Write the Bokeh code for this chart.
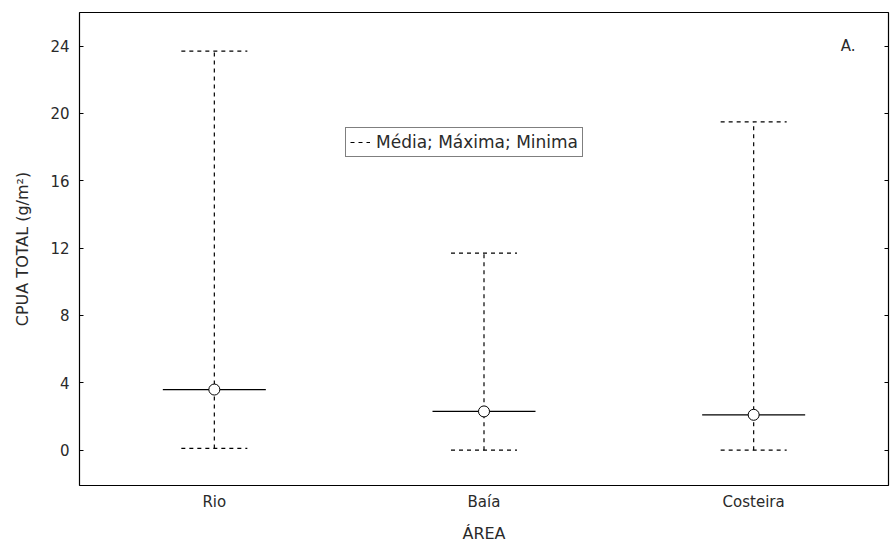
from bokeh.plotting import figure
from bokeh.models import (ColumnDataSource, FactorRange, Range1d, FixedTicker, LinearAxis,
                          Legend, LegendItem, Label)
from bokeh.embed import file_html
from bokeh.resources import INLINE

areas = ["Rio", "Baía", "Costeira"]
media = [3.6, 2.3, 2.1]
maxima = [23.7, 11.7, 19.5]
minima = [0.1, 0.0, 0.0]
y_ticks = [0, 4, 8, 12, 16, 20, 24]

FONT = "DejaVu Sans"
TXT = "#2a2a2a"

src = ColumnDataSource(dict(area=areas, media=media, maxima=maxima, minima=minima))

p = figure(width=890, height=545, x_range=FactorRange(*areas), y_range=Range1d(-2.1, 26.0),
           output_backend="svg", toolbar_location=None,
           min_border_left=79, min_border_right=2, min_border_top=12, min_border_bottom=40)
p.background_fill_color = "white"
p.border_fill_color = "white"
p.outline_line_color = "black"
p.outline_line_width = 1.2
p.xgrid.visible = False
p.ygrid.visible = False

# whiskers (max / min)
seg = p.segment(x0="area", y0="minima", x1="area", y1="maxima", source=src,
                line_color="black", line_width=1.2, line_dash="4 4")
p.scatter(x="area", y="maxima", source=src, marker="dash", size=66,
          line_color="black", line_width=1.2, line_dash="4 4")
p.scatter(x="area", y="minima", source=src, marker="dash", size=66,
          line_color="black", line_width=1.2, line_dash="4 4")
# mean line and point
p.scatter(x="area", y="media", source=src, marker="dash", size=103,
          line_color="black", line_width=1.2)
p.scatter(x="area", y="media", source=src, marker="circle", size=11,
          fill_color="white", line_color="black", line_width=1)

# axes
p.yaxis.ticker = FixedTicker(ticks=y_ticks)
p.yaxis.axis_label = "CPUA TOTAL (g/m²)"
p.xaxis.axis_label = "ÁREA"
for ax in (p.xaxis[0], p.yaxis[0]):
    ax.axis_line_color = None
    ax.major_label_text_font = FONT
    ax.major_label_text_font_size = "15px"
    ax.major_label_text_color = TXT
    ax.axis_label_text_font = FONT
    ax.axis_label_text_font_size = "16px"
    ax.axis_label_text_font_style = "normal"
    ax.axis_label_text_color = TXT
    ax.minor_tick_line_color = None
p.yaxis.major_tick_in = 4
p.yaxis.major_tick_out = 0
p.yaxis.major_label_standoff = 10
p.yaxis.axis_label_standoff = 15
p.xaxis.major_tick_line_color = None
p.xaxis.major_tick_in = 0
p.xaxis.major_tick_out = 0
p.xaxis.major_label_standoff = 7
p.xaxis.axis_label_standoff = 10

# right-hand inward ticks without labels
right = LinearAxis(ticker=FixedTicker(ticks=y_ticks),
                   major_label_overrides={t: "" for t in y_ticks},
                   major_tick_in=4, major_tick_out=0, axis_line_color=None,
                   minor_tick_line_color=None, major_label_standoff=0)
p.add_layout(right, "right")

legend = Legend(items=[LegendItem(label="Média; Máxima; Minima", renderers=[seg])],
                location=(266, 328), border_line_color="black", border_line_width=1,
                label_text_font=FONT, label_text_font_size="17px", label_text_color=TXT,
                padding=4, margin=0, glyph_width=20, glyph_height=14, spacing=0,
                label_standoff=6, background_fill_alpha=1)
p.add_layout(legend, "center")

p.add_layout(Label(x=2.85, y=24.0, text="A.", text_align="center", text_baseline="middle",
                   text_font=FONT, text_font_size="15px", text_color=TXT))

open("out.html", "w").write(file_html(p, INLINE))
